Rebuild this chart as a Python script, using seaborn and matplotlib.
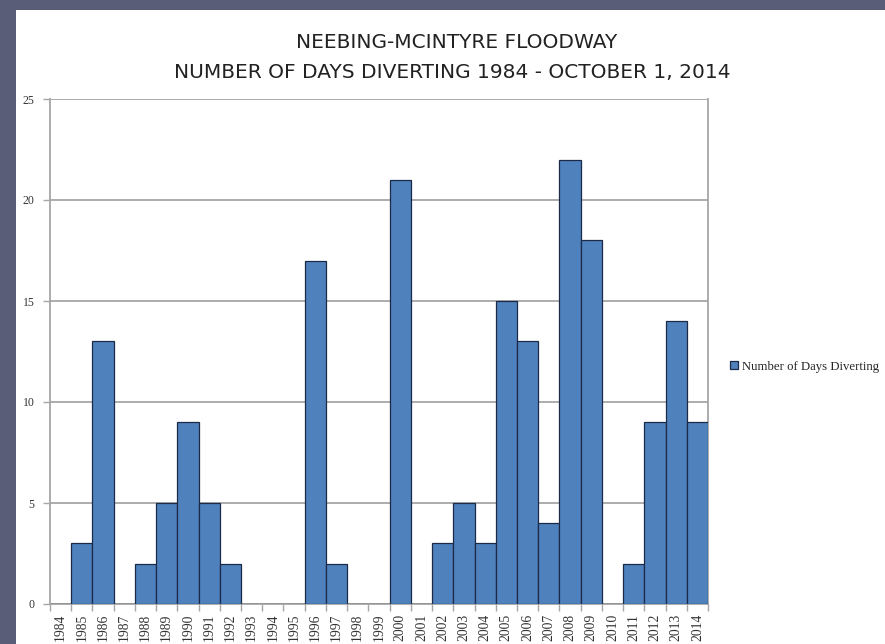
import numpy as np
import pandas as pd
import matplotlib.pyplot as plt
from matplotlib.patches import Rectangle
from matplotlib.ticker import FixedLocator
import seaborn as sns

# Days the floodway was diverting, per year
years = [str(y) for y in range(1984, 2015)]
days = [0, 3, 13, 0, 2, 5, 9, 5, 2, 0, 0, 0, 17, 2, 0, 0, 21, 0,
        3, 5, 3, 15, 13, 4, 22, 18, 0, 2, 9, 14, 9]
y_ticks = [0, 5, 10, 15, 20, 25]

df = pd.DataFrame({'year': years, 'days': days})

sns.set_theme(style="white")
plt.rcParams['font.family'] = ['Liberation Serif', 'DejaVu Serif']

fig = plt.figure(figsize=(8.85, 6.44), dpi=100)
fig.patch.set_facecolor('#595d78')
# white slide panel behind the chart
fig.patches.append(Rectangle((16 / 885, 0), 1, 1 - 10 / 644, transform=fig.transFigure,
                             facecolor='white', edgecolor='none', zorder=-5))

ax = fig.add_axes([50 / 885, 40 / 644, 658 / 885, 505 / 644])
ax.set_facecolor('white')

sns.barplot(data=df, x='year', y='days', ax=ax, color='#4f81bd', saturation=1,
            width=1.0, edgecolor='#1c2a48', linewidth=0.9,
            label='Number of Days Diverting', zorder=3)

ax.set_ylim(0, 25)
ax.set_xlim(-0.5, len(years) - 0.5)
ax.set_yticks(y_ticks)
ax.yaxis.grid(True, color='#a6a6a6', linewidth=1.3, zorder=0)
ax.set_axisbelow(True)

for side in ['left', 'right', 'top', 'bottom']:
    ax.spines[side].set_visible(True)
    ax.spines[side].set_color('#a6a6a6')
    ax.spines[side].set_linewidth(1.3)
ax.spines['top'].set_visible(False)

ax.set_xlabel('')
ax.set_ylabel('')
ax.tick_params(axis='y', which='major', left=True, length=5, width=1, color='#a6a6a6',
               labelsize=8.5, pad=6, labelcolor='#333333')
ax.tick_params(axis='x', which='major', bottom=False, length=0, labelsize=9.8, pad=7,
               labelcolor='#333333', labelrotation=90)
ax.xaxis.set_minor_locator(FixedLocator(np.arange(-0.5, len(years), 1)))
ax.tick_params(axis='x', which='minor', bottom=True, length=5, width=1, color='#a6a6a6')

fig.text(457 / 885, 1 - 42 / 644, 'NEEBING-MCINTYRE FLOODWAY', ha='center', va='center',
         fontsize=14.5, family='DejaVu Sans', color='#222222')
fig.text(452 / 885, 1 - 72 / 644, 'NUMBER OF DAYS DIVERTING 1984 - OCTOBER 1, 2014',
         ha='center', va='center', fontsize=14.5, family='DejaVu Sans', color='#222222')

leg = ax.legend(loc='center left', bbox_to_anchor=(1.02, 0.47), frameon=False,
                fontsize=9.2, handlelength=0.65, handleheight=0.65, handletextpad=0.25,
                borderaxespad=0.3)

fig.savefig('out.png', dpi=100, facecolor=fig.get_facecolor())
